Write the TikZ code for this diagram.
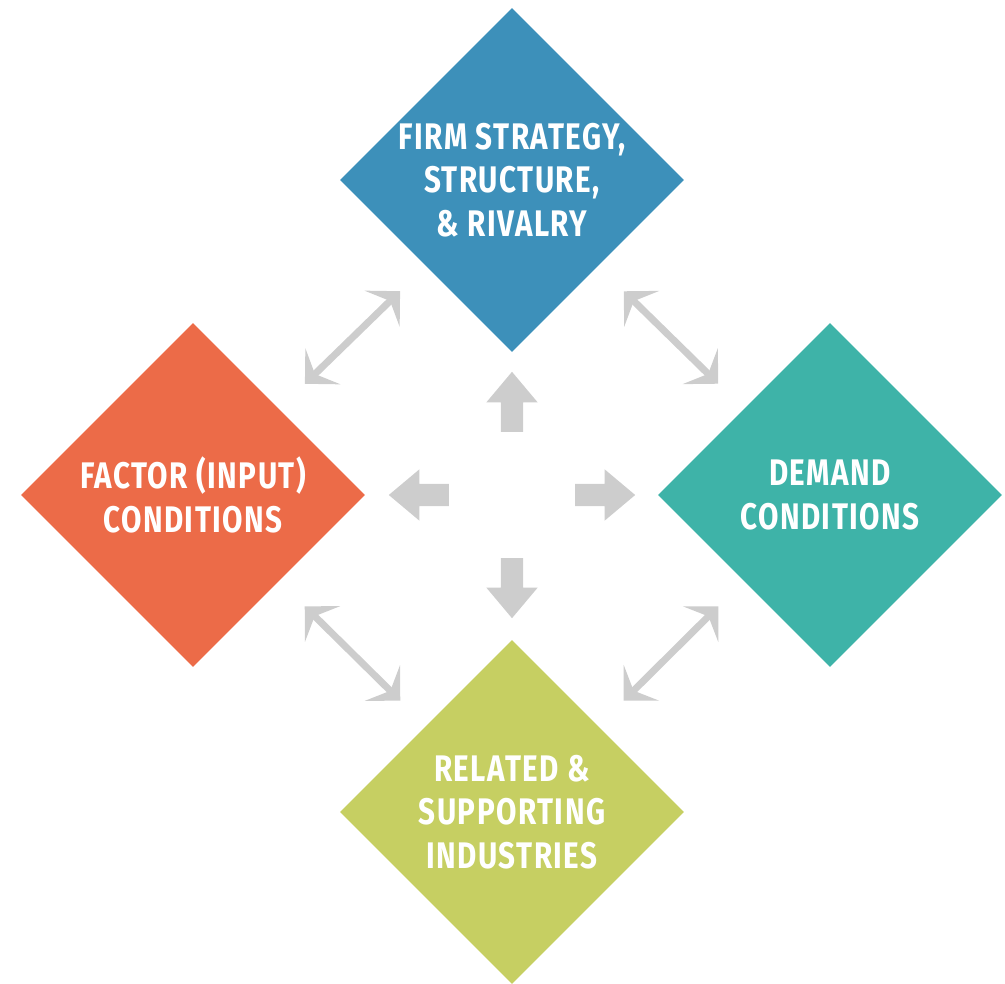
\documentclass[tikz,border=0pt]{standalone}
\usepackage{fontspec}
\setmainfont{Fira Sans}[FakeStretch=0.8, LetterSpace=4]
\usepackage{tikz}
\usetikzlibrary{positioning, arrows.meta, shapes.geometric, shapes.arrows}
\definecolor{firmBlue}{HTML}{3D90BA}
\definecolor{factorOrange}{HTML}{EC6B48}
\definecolor{demandTeal}{HTML}{3EB3A8}
\definecolor{relatedOlive}{HTML}{C6CF62}
\definecolor{arrowGrey}{HTML}{CDCDCD}
\tikzset{
  gem/.style  = {diamond, shape aspect=1, minimum width=344pt, minimum height=344pt,
                 inner sep=0pt, draw=none},
  txt/.style  = {text=white, align=center, inner sep=0pt,
                 font=\bfseries\fontsize{37}{43.5}\selectfont},
  push/.style = {single arrow, fill=arrowGrey, minimum height=60pt, inner sep=11pt,
                 single arrow head extend=14.5pt, single arrow tip angle=80},
  link/.style = {{Stealth[length=25pt, width=50pt, inset=11pt]}-{Stealth[length=25pt, width=50pt, inset=11pt]},
                 draw=arrowGrey, line width=7pt, shorten <=36pt, shorten >=36pt}
}
\begin{document}
\begin{tikzpicture}[x=1pt, y=1pt, node distance=63pt]
  \path[use as bounding box] (0,0) rectangle (1005,-984);
  \node[gem, fill=firmBlue] (firm) at (512,-180) {};
  \node[gem, fill=factorOrange] (fac) at (193,-495) {};
  \node[gem, fill=demandTeal] (dem) at (830,-495) {};
  \node[gem, fill=relatedOlive] (rel) at (512,-812) {};
  \node[txt] (firmTxt) at (firm) {FIRM STRATEGY,\\STRUCTURE,\\\& RIVALRY};
  \node[txt] (facTxt) at (fac) {FACTOR (INPUT)\\CONDITIONS};
  \node[txt] (demTxt) at (dem) {DEMAND\\CONDITIONS};
  \node[txt] (relTxt) at (rel) {RELATED \&\\SUPPORTING\\INDUSTRIES};
  % centre arrows
  \coordinate (hub) at (512,-495);
  \node[push, shape border rotate=90, above=of hub] (toFirm) {};
  \node[push, shape border rotate=180, left=of hub] (toFac) {};
  \node[push, shape border rotate=0, right=of hub] (toDem) {};
  \node[push, shape border rotate=270, below=of hub] (toRel) {};
  % links between neighbours
  \draw[link] (fac.north east) -- (firm.south west);
  \draw[link] (firm.south east) -- (dem.north west);
  \draw[link] (fac.south east) -- (rel.north west);
  \draw[link] (rel.north east) -- (dem.south west);
\end{tikzpicture}
\end{document}
